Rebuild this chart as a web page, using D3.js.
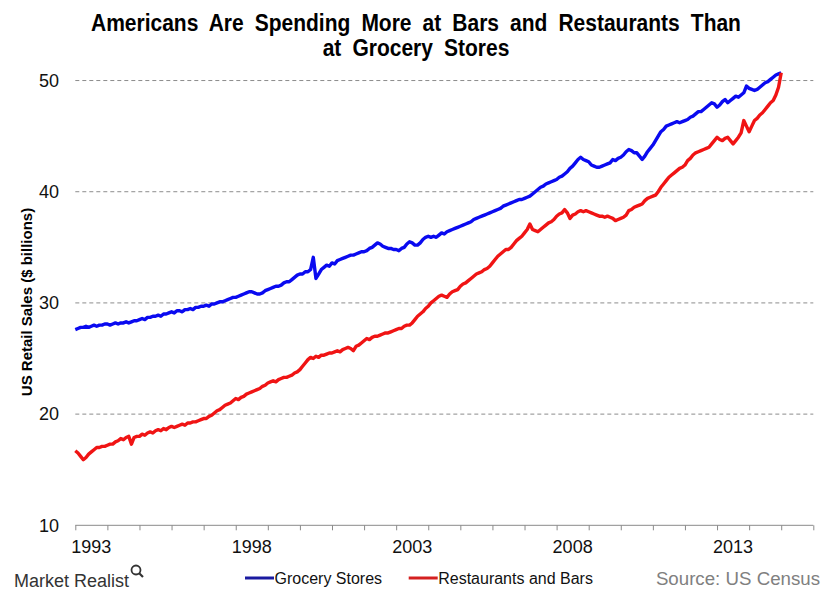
<!DOCTYPE html>
<html>
<head>
<meta charset="utf-8">
<script src="https://cdn.jsdelivr.net/npm/d3@7"></script>
<style>
  html, body { margin: 0; padding: 0; background: #fff; }
  svg { display: block; }
  text { font-family: Arial, "Liberation Sans", sans-serif; }
</style>
</head>
<body>
<svg id="chart" width="840" height="600"></svg>
<script>
// ---------- DATA (monthly) ----------
const startYear = 1993;           // first monthly point
const yearTickValues = d3.range(1993, 2017);      // tick marks at each year boundary
const yearLabels = [1993, 1998, 2003, 2008, 2013];  // labelled years
const yTicks = [10, 20, 30, 40, 50];
const yGrid = [20, 30, 40, 50];

const groceryStores = [
  27.6, 27.7, 27.8, 27.8, 27.9, 27.8, 27.9, 28.0, 27.9, 28.0, 28.0, 28.1,
  28.1, 28.0, 28.1, 28.2, 28.1, 28.2, 28.2, 28.3, 28.2, 28.3, 28.4, 28.4,
  28.5, 28.6, 28.5, 28.7, 28.7, 28.8, 28.8, 28.9, 28.8, 29.0, 29.0, 29.1,
  29.2, 29.1, 29.3, 29.3, 29.2, 29.4, 29.4, 29.5, 29.4, 29.6, 29.6, 29.7,
  29.7, 29.8, 29.7, 29.9, 29.9, 30.0, 30.1, 30.1, 30.2, 30.3, 30.4, 30.5,
  30.5, 30.6, 30.7, 30.8, 30.9, 31.0, 31.0, 30.9, 30.8, 30.8, 30.9, 31.1,
  31.2, 31.3, 31.4, 31.5, 31.5, 31.6, 31.8, 31.9, 31.9, 32.1, 32.3, 32.5,
  32.6, 32.6, 32.8, 32.8, 33.0, 34.1, 32.2, 32.6, 33.0, 33.2, 33.4, 33.3,
  33.6, 33.5, 33.8, 33.9, 34.0, 34.1, 34.2, 34.3, 34.3, 34.4, 34.5, 34.6,
  34.6, 34.7, 34.9, 35.0, 35.2, 35.4, 35.3, 35.1, 35.0, 34.9, 34.9, 34.8,
  34.8, 34.7, 34.9, 35.0, 35.3, 35.5, 35.4, 35.2, 35.2, 35.4, 35.7, 35.9,
  36.0, 35.9, 36.0, 35.9, 36.1, 36.3, 36.2, 36.4, 36.5, 36.6, 36.7, 36.8,
  36.9, 37.0, 37.1, 37.2, 37.3, 37.5, 37.6, 37.7, 37.8, 37.9, 38.0, 38.1,
  38.2, 38.3, 38.4, 38.5, 38.7, 38.8, 38.9, 39.0, 39.1, 39.2, 39.3, 39.3,
  39.4, 39.5, 39.6, 39.8, 40.0, 40.2, 40.4, 40.5, 40.7, 40.8, 40.9, 41.0,
  41.1, 41.3, 41.4, 41.6, 41.8, 42.1, 42.3, 42.6, 42.9, 43.1, 42.9, 42.8,
  42.7, 42.4, 42.3, 42.2, 42.2, 42.3, 42.4, 42.5, 42.6, 42.9, 42.8, 43.0,
  43.1, 43.3, 43.6, 43.8, 43.7, 43.5, 43.5, 43.2, 42.9, 43.2, 43.6, 43.9,
  44.2, 44.6, 45.0, 45.4, 45.6, 45.9, 46.0, 46.1, 46.2, 46.3, 46.2, 46.3,
  46.4, 46.5, 46.7, 46.8, 47.0, 47.2, 47.2, 47.4, 47.6, 47.8, 48.0, 47.9,
  47.6, 47.8, 48.1, 48.3, 48.0, 48.2, 48.4, 48.6, 48.5, 48.7, 48.9, 49.5,
  49.3, 49.2, 49.1, 49.2, 49.4, 49.6, 49.8, 49.9, 50.1, 50.3, 50.5, 50.6,
  50.7
];

const restaurantsAndBars = [
  16.7, 16.5, 16.2, 15.9, 16.1, 16.4, 16.6, 16.8, 17.0, 17.0, 17.1, 17.1,
  17.2, 17.3, 17.3, 17.5, 17.6, 17.8, 17.7, 17.9, 18.0, 17.3, 17.9, 18.0,
  18.0, 18.2, 18.1, 18.3, 18.4, 18.3, 18.5, 18.6, 18.5, 18.7, 18.6, 18.8,
  18.9, 18.8, 18.9, 19.0, 19.1, 19.0, 19.2, 19.2, 19.3, 19.3, 19.4, 19.5,
  19.6, 19.6, 19.8, 19.9, 20.1, 20.3, 20.4, 20.6, 20.8, 20.9, 21.0, 21.2,
  21.4, 21.3, 21.5, 21.6, 21.8, 21.9, 22.0, 22.1, 22.2, 22.3, 22.5, 22.6,
  22.8, 22.9, 23.0, 22.9, 23.1, 23.2, 23.3, 23.3, 23.4, 23.5, 23.7, 23.8,
  24.0, 24.3, 24.6, 24.9, 25.1, 25.0, 25.2, 25.1, 25.3, 25.3, 25.4, 25.5,
  25.5, 25.6, 25.7, 25.6, 25.8, 25.9, 26.0, 25.9, 25.7, 26.1, 26.2, 26.4,
  26.6, 26.8, 26.7, 26.9, 27.0, 27.0, 27.1, 27.2, 27.3, 27.3, 27.4, 27.5,
  27.6, 27.7, 27.7, 27.9, 28.0, 28.0, 28.2, 28.5, 28.8, 29.0, 29.2, 29.5,
  29.7, 30.0, 30.2, 30.4, 30.6, 30.7, 30.6, 30.5, 30.8, 31.0, 31.1, 31.2,
  31.5, 31.7, 31.8, 32.0, 32.2, 32.4, 32.6, 32.7, 32.8, 33.0, 33.1, 33.3,
  33.6, 33.9, 34.2, 34.4, 34.6, 34.8, 34.8, 35.0, 35.3, 35.6, 35.8, 36.0,
  36.3, 36.6, 37.1, 36.6, 36.5, 36.4, 36.6, 36.8, 37.0, 37.2, 37.3, 37.5,
  37.8, 38.0, 38.1, 38.4, 38.1, 37.6, 37.9, 38.0, 38.2, 38.3, 38.2, 38.3,
  38.2, 38.1, 38.0, 37.9, 37.8, 37.8, 37.7, 37.8, 37.7, 37.6, 37.4, 37.5,
  37.6, 37.7, 37.9, 38.3, 38.4, 38.6, 38.7, 38.8, 38.9, 39.2, 39.4, 39.5,
  39.6, 39.7, 40.0, 40.4, 40.7, 41.0, 41.3, 41.5, 41.7, 41.9, 42.1, 42.2,
  42.4, 42.8, 43.0, 43.3, 43.5, 43.6, 43.7, 43.8, 43.9, 44.0, 44.3, 44.6,
  44.9, 44.7, 44.6, 44.8, 44.9, 44.6, 44.3, 44.6, 44.9, 45.3, 46.4, 45.9,
  45.4, 45.9, 46.4, 46.6, 46.9, 47.1, 47.4, 47.7, 48.0, 48.2, 48.7, 49.4,
  50.7
];

const seriesNames = ["Grocery Stores", "Restaurants and Bars"];
const titleLines = ["Americans Are Spending More at Bars and Restaurants Than", "at Grocery Stores"];
const yAxisTitle = "US Retail Sales ($ billions)";
const sourceText = "Source: US Census";
const brandText = "Market Realist";

// ---------- LAYOUT ----------
const svg = d3.select("#chart");
const plotLeft = 75.3, plotRight = 813.3, plotBottom = 525.3, plotTop = 58.3;

const x = d3.scaleLinear().domain([1993, 2016]).range([plotLeft, plotRight]);
const y = d3.scaleLinear().domain([10, 52]).range([plotBottom, plotTop]);

// gridlines
svg.append("g").selectAll("line").data(yGrid).join("line")
  .attr("x1", plotLeft).attr("x2", plotRight)
  .attr("y1", d => y(d)).attr("y2", d => y(d))
  .attr("stroke", "#8c8c8c").attr("stroke-width", 1)
  .attr("stroke-dasharray", "4,3");

// y tick labels
svg.append("g").selectAll("text").data(yTicks).join("text")
  .attr("x", 59).attr("y", d => y(d))
  .attr("dy", "0.35em")
  .attr("text-anchor", "end")
  .attr("font-size", 18).attr("fill", "#111")
  .text(d => d);

// x axis
const xAxis = d3.axisBottom(x).tickValues(yearTickValues).tickSize(5).tickFormat("");
const gx = svg.append("g").attr("transform", `translate(0,${plotBottom})`).call(xAxis);
gx.select(".domain").attr("stroke", "#8a8a8a").attr("d", `M${plotLeft},0H${plotRight}`);
gx.selectAll(".tick line").attr("stroke", "#8a8a8a");

svg.append("g").selectAll("text").data(yearLabels).join("text")
  .attr("x", d => x(d + 0.5)).attr("y", 553)
  .attr("text-anchor", "middle")
  .attr("font-size", 18).attr("fill", "#111")
  .text(d => d);

// lines
const toPoints = arr => arr.map((v, i) => ({ t: startYear + i / 12, v }));
const line = d3.line().x(d => x(d.t)).y(d => y(d.v));

svg.append("path").datum(toPoints(groceryStores))
  .attr("fill", "none").attr("stroke", "#0a0af0").attr("stroke-width", 3.4)
  .attr("stroke-linejoin", "round").attr("d", line);
svg.append("path").datum(toPoints(restaurantsAndBars))
  .attr("fill", "none").attr("stroke", "#f01414").attr("stroke-width", 3.4)
  .attr("stroke-linejoin", "round").attr("d", line);

// title (condensed bold look)
svg.append("g").selectAll("text").data(titleLines).join("text")
  .attr("transform", (d, i) => `translate(416,${31 + i * 25}) scale(0.875,1)`)
  .attr("text-anchor", "middle")
  .attr("font-weight", "bold").attr("font-size", 24)
  .attr("word-spacing", 6)
  .attr("fill", "#000")
  .text(d => d);

// y axis title
svg.append("text")
  .attr("transform", "translate(32,302) rotate(-90)")
  .attr("text-anchor", "middle")
  .attr("font-size", 15).attr("font-weight", "bold").attr("fill", "#000")
  .text(yAxisTitle);

// legend
const legendColors = ["#1a1aa0", "#d42020"];
const legendX = [245, 408.7];
const lg = svg.append("g");
seriesNames.forEach((name, i) => {
  lg.append("line")
    .attr("x1", legendX[i]).attr("x2", legendX[i] + 29)
    .attr("y1", 578).attr("y2", 578)
    .attr("stroke", legendColors[i]).attr("stroke-width", 3);
  lg.append("text")
    .attr("x", legendX[i] + 29.5).attr("y", 584)
    .attr("font-size", 16).attr("fill", "#111")
    .text(name);
});

// source
svg.append("text")
  .attr("x", 820).attr("y", 585)
  .attr("text-anchor", "end")
  .attr("font-size", 18.7).attr("fill", "#808080")
  .text(sourceText);

// brand
svg.append("text")
  .attr("x", 14).attr("y", 587)
  .attr("font-size", 18).attr("fill", "#333")
  .text(brandText);
const icon = svg.append("g").attr("transform", "translate(136,570)");
icon.append("circle").attr("r", 4.5).attr("fill", "none").attr("stroke", "#333").attr("stroke-width", 1.8);
icon.append("line").attr("x1", 3.2).attr("y1", 3.2).attr("x2", 7).attr("y2", 7)
  .attr("stroke", "#333").attr("stroke-width", 2.2);
</script>
</body>
</html>
